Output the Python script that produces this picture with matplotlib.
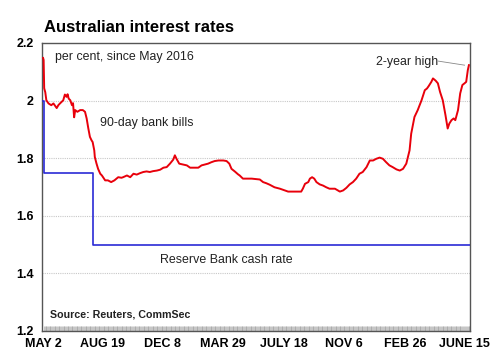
import numpy as np
import matplotlib
matplotlib.use("Agg")
import matplotlib.pyplot as plt
from matplotlib.ticker import MultipleLocator

plt.rcParams['font.family'] = ['Liberation Sans', 'DejaVu Sans']

# Data: days since 2 May 2016
tick_days = [0, 109, 220, 331, 442, 553, 665, 774]
tick_labels = ['MAY 2', 'AUG 19', 'DEC 8', 'MAR 29', 'JULY 18', 'NOV 6', 'FEB 26', 'JUNE 15']

bill_days = [0, 1, 2, 4, 6, 10, 15, 19, 25, 28, 31, 37, 40, 43, 45, 47, 50, 53, 55, 57,
             59, 63, 68, 73, 77, 80, 83, 86, 89, 91, 94, 95, 98, 101, 105, 108, 114, 119,
             125, 131, 138, 144, 147, 154, 160, 166, 172, 178, 184, 190, 196, 202, 209,
             215, 221, 227, 233, 239, 242, 245, 250, 257, 264, 270, 276, 285, 291, 297,
             303, 309, 315, 322, 331, 337, 342, 346, 352, 358, 361, 367, 383, 398, 404,
             410, 416, 425, 435, 444, 450, 462, 474, 477, 481, 487, 490, 494, 498, 502,
             508, 514, 520, 526, 536, 545, 551, 557, 563, 569, 575, 581, 587, 594, 600,
             606, 612, 618, 624, 630, 636, 642, 649, 655, 661, 667, 673, 676, 682, 688,
             695, 701, 705, 708, 713, 716, 721, 725, 729, 734, 739, 743, 746, 750, 754,
             757, 762, 766, 770, 774, 777, 780, 782]
bill_rate = [2.148, 2.141, 2.043, 2.029, 2.001, 1.990, 1.984, 1.990, 1.974, 1.984, 1.990,
             2.001, 2.021, 2.013, 2.022, 2.007, 2.001, 1.984, 1.991, 1.942, 1.967, 1.961,
             1.967, 1.967, 1.961, 1.938, 1.904, 1.874, 1.862, 1.856, 1.827, 1.804, 1.782,
             1.763, 1.746, 1.740, 1.723, 1.723, 1.717, 1.723, 1.734, 1.732, 1.734, 1.740,
             1.734, 1.746, 1.743, 1.748, 1.752, 1.754, 1.752, 1.755, 1.757, 1.760, 1.767,
             1.769, 1.781, 1.795, 1.810, 1.798, 1.781, 1.778, 1.775, 1.767, 1.767, 1.767,
             1.775, 1.778, 1.781, 1.786, 1.790, 1.792, 1.792, 1.790, 1.781, 1.763, 1.754,
             1.744, 1.740, 1.729, 1.729, 1.726, 1.717, 1.713, 1.708, 1.699, 1.694, 1.688,
             1.684, 1.684, 1.684, 1.694, 1.711, 1.717, 1.729, 1.734, 1.729, 1.717, 1.709,
             1.705, 1.699, 1.694, 1.694, 1.684, 1.688, 1.697, 1.709, 1.717, 1.729, 1.746,
             1.752, 1.769, 1.792, 1.792, 1.798, 1.802, 1.798, 1.786, 1.775, 1.769, 1.761,
             1.757, 1.763, 1.781, 1.827, 1.885, 1.943, 1.967, 2.001, 2.036, 2.042, 2.050,
             2.065, 2.077, 2.069, 2.060, 2.030, 2.001, 1.949, 1.903, 1.920, 1.932, 1.938,
             1.932, 1.967, 2.025, 2.054, 2.060, 2.065, 2.106, 2.123]

cash_days = [0, 1, 92, 784]
cash_rate = [2.0, 1.75, 1.5, 1.5]

fig = plt.figure(figsize=(5, 3.6), dpi=100)
ax = fig.add_axes([0.084, 0.0806, 0.856, 0.80])

ax.plot(cash_days, cash_rate, drawstyle='steps-post', color='#2a2ad6', lw=1.2, zorder=3)
ax.plot(bill_days, bill_rate, color='#e8000b', lw=1.4, zorder=4)

ax.set_xlim(-2, 784)
ax.set_ylim(1.2, 2.2)
ax.set_yticks([1.2, 1.4, 1.6, 1.8, 2.0, 2.2])
ax.set_yticklabels(['1.2', '1.4', '1.6', '1.8', '2', '2.2'], fontweight='bold', fontsize=9)
ax.set_xticks(tick_days)
ax.set_xticklabels(tick_labels, fontweight='bold', fontsize=9)
ax.xaxis.set_minor_locator(MultipleLocator(1.5))
ax.tick_params(axis='x', which='major', length=0, pad=5)
ax.tick_params(axis='x', which='minor', direction='in', length=3.5, width=0.4, color='#9a9a9a')
ax.tick_params(axis='y', length=0, pad=6)

for v in [1.4, 1.6, 1.8, 2.0]:
    ax.axhline(v, color='#c8c8c8', lw=0.8, ls=(0, (1, 1)), zorder=1)

for s in ax.spines.values():
    s.set_color('#555555')
    s.set_linewidth(1.0)

ax.text(22, 2.151, 'per cent, since May 2016', fontsize=8.9, va='center', color='#222222')
ax.text(104, 1.921, '90-day bank bills', fontsize=8.9, va='center', color='#222222')
ax.text(214, 1.447, 'Reserve Bank cash rate', fontsize=8.9, va='center', color='#222222')
ax.text(13, 1.256, 'Source: Reuters, CommSec', fontsize=7.7, va='center',
        fontweight='bold', color='#222222')
ax.text(612, 2.134, '2-year high', fontsize=8.9, va='center', color='#222222')
ax.plot([726, 774], [2.137, 2.123], color='#888888', lw=0.6)

fig.text(0.088, 1 - 27 / 360, 'Australian interest rates', fontsize=12,
         fontweight='bold', va='center')

plt.savefig('out.png', dpi=100)
plt.close()
